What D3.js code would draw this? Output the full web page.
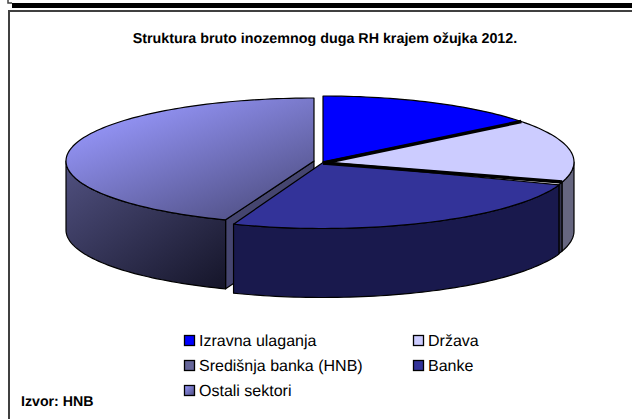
<!DOCTYPE html>
<html><head><meta charset="utf-8">
<script src="https://cdn.jsdelivr.net/npm/d3@7/dist/d3.min.js"></script>
<style>html,body{margin:0;padding:0;background:#fff;overflow:hidden}svg{display:block}text{font-family:"Liberation Sans",Arial,sans-serif;fill:#000;text-rendering:geometricPrecision}</style>
</head><body><svg id="c" width="632" height="419"></svg>
<script>
const categories = ["Izravna ulaganja","Država","Središnja banka (HNB)","Banke","Ostali sektori"];
const shares = [14.5,15.4,0.6,25.3,44.2];
const topColors = ["#0000FF","#CCCCFF","#666699","#333399","url(#gTop)"];
const sideColors = ["#00007F","#666680","#33334D","#19194D","url(#gSide)"];
const titleText = "Struktura bruto inozemnog duga RH krajem ožujka 2012.";
const sourceText = "Izvor: HNB";

const svg = d3.select("#c");
const defs = svg.append("defs");
function grad(id,x1,y1,x2,y2,a,b){
  const g=defs.append("linearGradient").attr("id",id).attr("x1",x1).attr("y1",y1).attr("x2",x2).attr("y2",y2);
  g.append("stop").attr("offset",0).attr("stop-color",a);
  g.append("stop").attr("offset",1).attr("stop-color",b);
}
grad("gTop",0.12,0.1,0.85,1,"#9999FF","#4D4D80");
grad("gSide",0.05,0,0.95,1,"#50507F","#16162B");
grad("gLeg",0,0,1,1,"#9999FF","#4D4D80");

// frame
svg.append("path").attr("d","M8,0V3H12").attr("fill","none").attr("stroke","#444").attr("stroke-width",1.5);
svg.append("rect").attr("x",12).attr("y",3).attr("width",620).attr("height",5).attr("fill","#000");
svg.append("path").attr("d","M632,11H9V419").attr("fill","none").attr("stroke","#404040").attr("stroke-width",2);

svg.append("text").attr("x",325).attr("y",43).attr("text-anchor","middle").attr("font-size",14.3).attr("font-weight","bold").text(titleText);
svg.append("text").attr("x",21).attr("y",406).attr("font-size",14.2).attr("font-weight","bold").text(sourceText);

// pie
const arcs = d3.pie().sort(null).value(d=>d)(shares);
const geom = [
  {cx:323,cy:162,rx:251,ry:66},{cx:323,cy:162,rx:251,ry:66},{cx:323,cy:162,rx:251,ry:66},
  {cx:323,cy:162.5,rx:251,ry:66},{cx:314,cy:161,rx:248,ry:63}
];
const depth = 69;
const pt=(g,a,dy=0)=>[g.cx+g.rx*Math.sin(a), g.cy-g.ry*Math.cos(a)+dy];
const line=d3.line();
const samples=(a,b)=>{const n=Math.max(2,Math.ceil(Math.abs(b-a)*40));return d3.range(n+1).map(i=>a+(b-a)*i/n);};
function poly(points,fill,sw=1.2){
  svg.append("path").attr("d",line(points)+"Z").attr("fill",fill).attr("stroke","#000").attr("stroke-width",sw).attr("stroke-linejoin","round");
}
function outerWall(i){
  const g=geom[i],a=arcs[i];
  const s=Math.max(a.startAngle,Math.PI/2),e=Math.min(a.endAngle,3*Math.PI/2);
  if(e<=s)return;
  const as=samples(s,e);
  poly([...as.map(t=>pt(g,t)),...as.slice().reverse().map(t=>pt(g,t,depth))],sideColors[i]);
}
function topFace(i){
  const g=geom[i],a=arcs[i];
  poly([[g.cx,g.cy],...samples(a.startAngle,a.endAngle).map(t=>pt(g,t))],topColors[i]);
}
// exploded slice: radial wall first
(function(){
  const g=geom[4],a=arcs[4].startAngle;
  poly([[g.cx,g.cy],pt(g,a),pt(g,a,depth),[g.cx,g.cy+depth]],"#45456F");
})();
outerWall(4); topFace(4);
outerWall(3); outerWall(2); outerWall(1);
topFace(3); topFace(1); topFace(0);
// thick dark seams between the central slices
[arcs[0].endAngle,arcs[1].endAngle].forEach(a=>{
  const g=geom[0],p=pt(g,a);
  svg.append("path").attr("d",line([[g.cx,g.cy+1],p])).attr("stroke","#000").attr("stroke-width",3.5).attr("fill","none");
});

// legend
const legX=[184,413], legY=[335,360,385];
categories.forEach((c,i)=>{
  const x=legX[i%2], y=legY[Math.floor(i/2)];
  svg.append("rect").attr("x",x+.5).attr("y",y+.5).attr("width",10).attr("height",10)
    .attr("fill",i===4?"url(#gLeg)":topColors[i]).attr("stroke","#000").attr("stroke-width",1.3);
  svg.append("text").attr("x",x+15).attr("y",y+11).attr("font-size",16).text(c);
});
</script></body></html>
